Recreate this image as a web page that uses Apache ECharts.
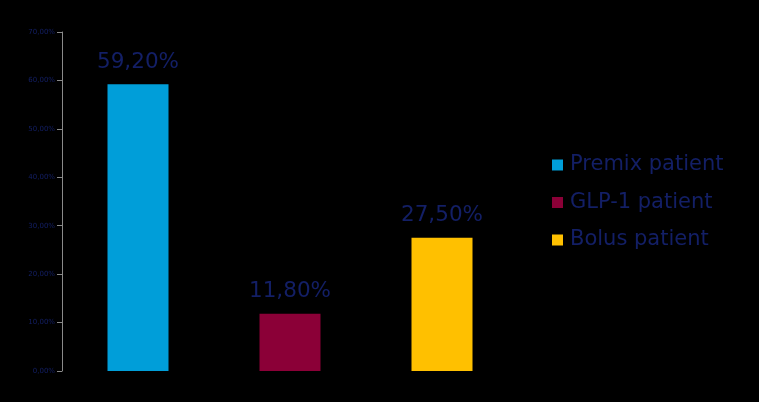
<!DOCTYPE html>
<html><head><meta charset="utf-8">
<script src="https://cdn.jsdelivr.net/npm/echarts@6/dist/echarts.min.js"></script>
<style>html,body{margin:0;padding:0;background:#000;}#c{width:759px;height:402px;}</style>
</head><body><div id="c"></div>
<script>
const categories = ['Premix patient', 'GLP-1 patient', 'Bolus patient'];
const values = [59.2, 11.8, 27.5];
const colors = ['#009ED9', '#8B0037', '#FFC000'];
const yTicks = [0, 10, 20, 30, 40, 50, 60, 70];

const fmt = v => v.toFixed(2).replace('.', ',') + '%';
const series = categories.map((name, i) => ({
  name: name,
  type: 'bar',
  stack: 'all',
  barWidth: 61,
  itemStyle: { color: colors[i] },
  data: categories.map((c, j) => j === i ? values[i] : null),
  label: {
    show: true, position: 'top', distance: 11,
    color: '#131f66', fontSize: 21.5, fontFamily: 'DejaVu Sans',
    formatter: p => fmt(p.value)
  }
}));

const chart = echarts.init(document.getElementById('c'));
chart.setOption({
  backgroundColor: '#000',
  animation: false,
  grid: { left: 62, right: 241, top: 32, bottom: 31, containLabel: false },
  legend: {
    orient: 'vertical', left: 552, top: 154, padding: 0,
    itemWidth: 11, itemHeight: 11, itemGap: 15.5, icon: 'rect',
    textStyle: { color: '#131f66', fontSize: 21, lineHeight: 22, fontFamily: 'DejaVu Sans', padding: [0,0,0,2] },
    data: categories
  },
  xAxis: {
    type: 'category', data: categories,
    axisLine: { show: false }, axisTick: { show: false }, axisLabel: { show: false }
  },
  yAxis: {
    type: 'value', min: 0, max: 70, interval: 10,
    axisLine: { show: true, lineStyle: { color: '#8a8a8a', width: 1 } },
    axisTick: { show: true, inside: false, length: 5, lineStyle: { color: '#8a8a8a' } },
    splitLine: { show: false },
    axisLabel: { color: '#131f66', fontSize: 7, margin: 7, fontFamily: 'DejaVu Sans',
      formatter: v => fmt(v) }
  },
  series: series
});
</script></body></html>
